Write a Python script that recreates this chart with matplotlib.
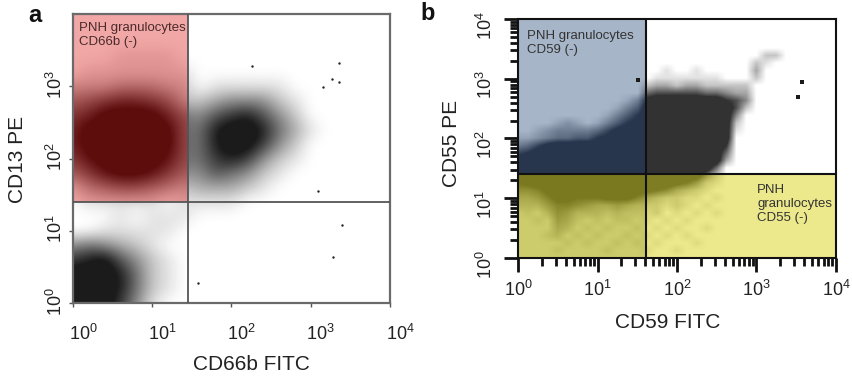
import numpy as np
import matplotlib
matplotlib.use('Agg')
import matplotlib.pyplot as plt
from matplotlib.colors import LinearSegmentedColormap, to_rgb
from matplotlib.patches import Rectangle
from matplotlib.transforms import ScaledTranslation
from matplotlib.ticker import LogLocator, NullLocator, NullFormatter

plt.rcParams['font.family'] = ['Liberation Sans', 'DejaVu Sans']
plt.rcParams['mathtext.default'] = 'regular'

# ---------------- data ----------------
x_decades = [0, 1, 2, 3, 4]
a_y_decades = [0, 1, 2, 3]
b_y_decades = [0, 1, 2, 3, 4]

# panel a: gates (CD66b FITC / CD13 PE)
a_gate_x = 28
a_gate_y = 25
# panel a: event density (0-9), nodes every 0.2 decade,
# rows from top (10^4) to bottom (10^0), columns from 10^0 to 10^4
a_step = 0.2
a_density = [
    "000000000000000000000",
    "000000000000000000000",
    "000000000000000000000",
    "000111100000000000000",
    "011111110000000000000",
    "222333220111110000000",
    "456776522344421000000",
    "679999754678642000000",
    "799999955899853100000",
    "799999955899742000000",
    "689999855787421000000",
    "468998644654210000000",
    "134554323332100000000",
    "011111011110000000000",
    "000101110000000000000",
    "001111100000000000000",
    "454321000000000000000",
    "789642100000000000000",
    "999852100000000000000",
    "999852100000000000000",
    "899741000000000000000",
]
a_out_x = [2240, 1860, 2290, 1410, 1230, 182, 2450, 1900, 38]
a_out_y = [2090, 1260, 1150, 980, 35, 1900, 12, 4.4, 1.9]

# panel b: gates (CD59 FITC / CD55 PE)
b_gate_x = 41
b_gate_y = 25
# panel b: event density (0-9), nodes every 0.125 decade
b_step = 0.125
b_density = [
    "00000000 00000000 00000000 00000000 0",
    "00000000 00000000 00000000 00000000 0",
    "00000000 00000000 00000000 00000000 0",
    "00000000 00000000 00000000 00000000 0",
    "00000000 00000000 00000000 00000000 0",
    "00000000 00000000 00000000 02200000 0",
    "00000000 00000000 00000000 21000000 0",
    "00000000 00000001 00100000 30000000 0",
    "00000000 00000011 11111000 20000000 0",
    "00000000 00000233 23322222 00000000 0",
    "00000000 00000566 66655433 00000000 0",
    "00000000 00013899 99999764 00000000 0",
    "00000000 00135999 99999962 00000000 0",
    "00000000 01357999 99999940 00000000 0",
    "00001210 13578999 99999920 00000000 0",
    "00123333 46899999 99999910 00000000 0",
    "11234455 78999999 99999900 00000000 0",
    "34689999 99999999 99999700 00000000 0",
    "67999999 99999999 99999500 00000000 0",
    "99999999 99999999 99999300 00000000 0",
    "99999999 99999999 99995000 00000000 0",
    "99999999 99999999 99952000 00000000 0",
    "78999999 99999999 87521000 00000000 0",
    "55689999 99999876 43210000 00000000 0",
    "33468877 78886432 21101000 00000000 0",
    "22246654 33432221 21010000 00000000 0",
    "01025422 21211120 10101000 00000000 0",
    "00104310 10110101 01000000 00000000 0",
    "00003201 01001010 10010000 00000000 0",
    "00012010 10010101 01000000 00000000 0",
    "00000101 00101010 00100000 00000000 0",
    "00001000 01000100 10000000 00000000 0",
    "00000000 00000000 00000000 00000000 0",
]
b_out_x = [3700, 3300, 32]
b_out_y = [870, 490, 950]


def parse(rows):
    return np.array([[int(c) for c in r.replace(' ', '')] for r in rows], float)


def alpha_cmap(color, amax, knee):
    r, g, b = to_rgb(color)
    return LinearSegmentedColormap.from_list(
        'c', [(0.0, (r, g, b, 0.0)), (knee, (r, g, b, amax)), (1.0, (r, g, b, amax))])


def density_image(axl, dens, step, color, amax, knee, interp, clip=None, z=2):
    # axl is a linear axes in log10 units laid exactly under the log axes
    ext = (-step / 2, 4 + step / 2, -step / 2, 4 + step / 2)
    im = axl.imshow(dens, extent=ext, origin='upper', cmap=alpha_cmap(color, amax, knee),
                    vmin=0, vmax=9, interpolation=interp, aspect='auto', zorder=z)
    if clip is not None:
        (x0, y0), (x1, y1) = clip
        lx0, ly0, lx1, ly1 = np.log10([x0, y0, x1, y1])
        im.set_clip_path(Rectangle((lx0, ly0), lx1 - lx0, ly1 - ly0, transform=axl.transData))
    return im


def log_rect(axl, x0, y0, x1, y1, color, z):
    lx0, ly0, lx1, ly1 = np.log10([x0, y0, x1, y1])
    axl.add_patch(Rectangle((lx0, ly0), lx1 - lx0, ly1 - ly0, facecolor=color,
                            edgecolor='none', zorder=z))


def make_axes(pos):
    axl = fig.add_axes(pos, zorder=0)
    axl.set_xlim(0, 4)
    axl.set_ylim(0, 4)
    axl.axis('off')
    ax = fig.add_axes(pos, zorder=1)
    ax.patch.set_alpha(0)
    ax.set_xscale('log')
    ax.set_yscale('log')
    ax.set_xlim(1, 1e4)
    ax.set_ylim(1, 1e4)
    return axl, ax


fig = plt.figure(figsize=(8.53, 3.77), dpi=100)

# ---------------- panel a ----------------
pos_a = [73 / 853, 1 - 303 / 377, 317 / 853, 289 / 377]
axla, axa = make_axes(pos_a)
A = parse(a_density)
density_image(axla, A, a_step, '#0e0e0e', 0.95, 8 / 9, 'bicubic', z=2)
log_rect(axla, 1, a_gate_y, a_gate_x, 1e4, '#f2a7a7', 3)
density_image(axla, A, a_step, '#560505', 0.95, 8 / 9, 'bicubic',
              clip=((1, a_gate_y), (a_gate_x, 1e4)), z=4)
axa.scatter(a_out_x, a_out_y, s=3, color='#222222', zorder=4, linewidths=0)
axa.axvline(a_gate_x, color='#555555', lw=1.3, zorder=5)
axa.axhline(a_gate_y, color='#555555', lw=1.3, zorder=5)
for s in axa.spines.values():
    s.set_color('#6a6a6a')
    s.set_linewidth(1.6)
axa.set_xticks([10 ** d for d in x_decades], [r'$10^{%d}$' % d for d in x_decades])
axa.set_yticks([10 ** d for d in a_y_decades], [r'$10^{%d}$' % d for d in a_y_decades])
axa.xaxis.set_minor_locator(NullLocator())
axa.yaxis.set_minor_locator(NullLocator())
axa.tick_params(axis='both', length=3, width=1, color='#555555', labelsize=13,
                labelcolor='#222222')
axa.tick_params(axis='x', pad=12)
axa.tick_params(axis='y', pad=2, labelrotation=90)
for lab in axa.get_xticklabels():
    lab.set_transform(lab.get_transform() + ScaledTranslation(0.10, 0, fig.dpi_scale_trans))
for lab in axa.get_yticklabels():
    lab.set_transform(lab.get_transform() + ScaledTranslation(0, 0.08, fig.dpi_scale_trans))
axa.text(0.019, 0.972, 'PNH granulocytes\nCD66b (-)', transform=axa.transAxes,
         ha='left', va='top', fontsize=9.5, color='#4a2a2a', zorder=6, linespacing=1.2)

# ---------------- panel b ----------------
pos_b = [518 / 853, 1 - 258 / 377, 318 / 853, 239 / 377]
axlb, axb = make_axes(pos_b)
log_rect(axlb, 1, b_gate_y, b_gate_x, 1e4, '#a7b5c8', 1)
log_rect(axlb, b_gate_x, 1, 1e4, b_gate_y, '#ece98c', 1)
log_rect(axlb, 1, 1, b_gate_x, b_gate_y, '#cdcc6c', 1)
B = parse(b_density)
density_image(axlb, B, b_step, '#1c2a42', 0.92, 7 / 9, 'bilinear',
              clip=((1, b_gate_y), (b_gate_x, 1e4)))
density_image(axlb, B, b_step, '#1a1a1a', 0.9, 7 / 9, 'bilinear',
              clip=((b_gate_x, b_gate_y), (1e4, 1e4)))
density_image(axlb, B, b_step, '#6b6a12', 0.85, 7 / 9, 'bilinear',
              clip=((1, 1), (1e4, b_gate_y)))
axb.scatter(b_out_x, b_out_y, s=7, marker='s', color='#1a1a1a', zorder=4, linewidths=0)
axb.axvline(b_gate_x, color='#111111', lw=1.5, zorder=5)
axb.axhline(b_gate_y, color='#111111', lw=1.5, zorder=5)
for s in axb.spines.values():
    s.set_color('#111111')
    s.set_linewidth(1.5)
axb.set_xticks([10 ** d for d in x_decades], [r'$10^{%d}$' % d for d in x_decades])
axb.set_yticks([10 ** d for d in b_y_decades], [r'$10^{%d}$' % d for d in b_y_decades])
axb.xaxis.set_minor_locator(LogLocator(base=10, subs=np.arange(2, 10)))
axb.yaxis.set_minor_locator(LogLocator(base=10, subs=np.arange(2, 10)))
axb.xaxis.set_minor_formatter(NullFormatter())
axb.yaxis.set_minor_formatter(NullFormatter())
axb.tick_params(axis='both', which='major', direction='out', length=10, width=2,
                color='#111111', labelsize=13, labelcolor='#222222', pad=6)
axb.tick_params(axis='both', which='minor', direction='out', length=6, width=2,
                color='#111111')
axb.tick_params(axis='y', labelrotation=90)
axb.text(0.028, 0.955, 'PNH granulocytes\nCD59 (-)', transform=axb.transAxes,
         ha='left', va='top', fontsize=9.5, color='#333333', zorder=6, linespacing=1.2)
axb.text(0.752, 0.31, 'PNH\ngranulocytes\nCD55 (-)', transform=axb.transAxes,
         ha='left', va='top', fontsize=9.5, color='#333333', zorder=6, linespacing=1.2)

# ---------------- labels ----------------
fig.text(251 / 853, 1 - 365 / 377, 'CD66b FITC', ha='center', va='center', fontsize=15,
         color='#222222')
fig.text(18 / 853, 1 - 159 / 377, 'CD13 PE', ha='center', va='center', fontsize=15,
         rotation=90, color='#222222')
fig.text(668 / 853, 1 - 322 / 377, 'CD59 FITC', ha='center', va='center', fontsize=15,
         color='#222222')
fig.text(452 / 853, 1 - 143 / 377, 'CD55 PE', ha='center', va='center', fontsize=15,
         rotation=90, color='#222222')
fig.text(35 / 853, 1 - 16 / 377, 'a', ha='center', va='center', fontsize=17,
         fontweight='bold', color='#111111')
fig.text(428 / 853, 1 - 14 / 377, 'b', ha='center', va='center', fontsize=17,
         fontweight='bold', color='#111111')

fig.savefig('out.png', dpi=100)
